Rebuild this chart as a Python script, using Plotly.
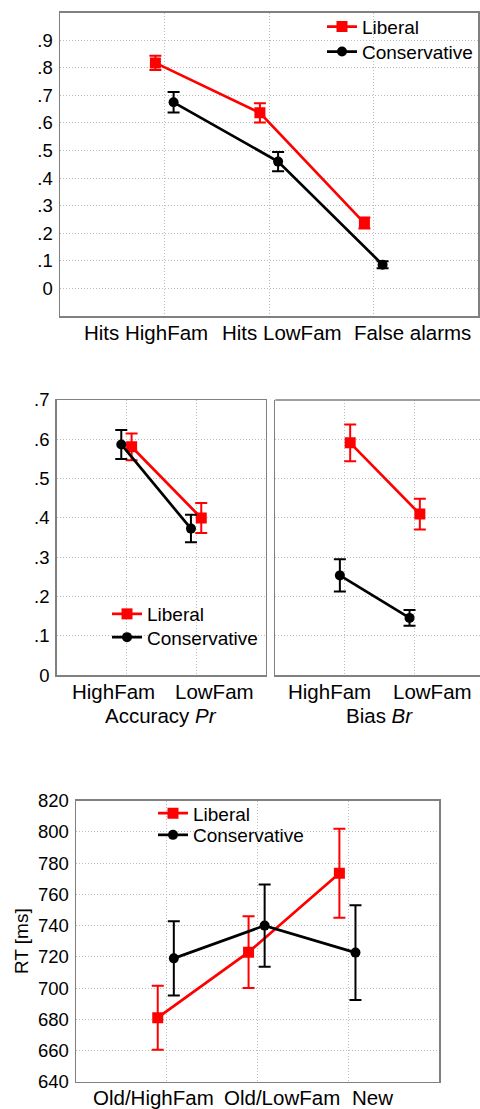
import plotly.graph_objects as go

# ---------------- data ----------------
top_categories = ["Hits HighFam", "Hits LowFam", "False alarms"]
top_liberal = [0.818, 0.637, 0.237]
top_liberal_err = [0.026, 0.035, 0.020]
top_conservative = [0.675, 0.460, 0.086]
top_conservative_err = [0.037, 0.035, 0.013]
top_tick_vals = [0, 0.1, 0.2, 0.3, 0.4, 0.5, 0.6, 0.7, 0.8, 0.9]
top_tick_text = ["0", ".1", ".2", ".3", ".4", ".5", ".6", ".7", ".8", ".9"]

mid_categories = ["HighFam", "LowFam"]
pr_liberal = [0.581, 0.400]
pr_liberal_err = [0.034, 0.038]
pr_conservative = [0.587, 0.373]
pr_conservative_err = [0.037, 0.035]
br_liberal = [0.591, 0.410]
br_liberal_err = [0.047, 0.039]
br_conservative = [0.254, 0.146]
br_conservative_err = [0.041, 0.020]
mid_tick_vals = [0, 0.1, 0.2, 0.3, 0.4, 0.5, 0.6, 0.7]
mid_tick_text = ["0", ".1", ".2", ".3", ".4", ".5", ".6", ".7"]
mid_titles = ["Accuracy <i>Pr</i>", "Bias <i>Br</i>"]

rt_categories = ["Old/HighFam", "Old/LowFam", "New"]
rt_liberal = [681, 723, 773.5]
rt_liberal_err = [20.5, 23, 28.5]
rt_conservative = [719, 740, 722.7]
rt_conservative_err = [23.8, 26.4, 30.4]
rt_tick_vals = [640, 660, 680, 700, 720, 740, 760, 780, 800, 820]
rt_tick_text = ["640", "660", "680", "700", "720", "740", "760", "780", "800", "820"]
rt_title = "RT [ms]"

series_names = ["Liberal", "Conservative"]

# ---------------- style ----------------
FONT = "Liberation Sans, Arial, sans-serif"
FS_TICK = 18.5
FS_CAT = 20.5
FS_LEG = 19
RED = "#ff0000"
BLACK = "#000000"
FRAME = "#808080"
GRID = "#bcbcbc"
GRID_DASH = "1px,2px"
H = 1109.0
W = 480.0


def xs(n, off):
    return [i + off for i in range(n)]


def add_series(fig, x, y, err, color, symbol, name, xa, ya, legend, showlegend, msize):
    fig.add_trace(go.Scatter(
        x=x, y=y, mode="lines+markers", name=name,
        line=dict(color=color, width=2.7),
        marker=dict(color=color, symbol=symbol, size=msize),
        error_y=dict(type="data", array=err, color=color, thickness=2, width=6),
        xaxis=xa, yaxis=ya, legend=legend, showlegend=showlegend,
    ))


fig = go.Figure()

# top panel
add_series(fig, xs(3, -0.087), top_liberal, top_liberal_err, RED, "square", series_names[0], "x", "y", "legend", True, 11)
add_series(fig, xs(3, 0.087), top_conservative, top_conservative_err, BLACK, "circle", series_names[1], "x", "y", "legend2", True, 10)
# middle left (Pr)
add_series(fig, xs(2, 0.075), pr_liberal, pr_liberal_err, RED, "square", series_names[0], "x2", "y2", "legend3", True, 11)
add_series(fig, xs(2, -0.073), pr_conservative, pr_conservative_err, BLACK, "circle", series_names[1], "x2", "y2", "legend4", True, 10)
# middle right (Br)
add_series(fig, xs(2, 0.075), br_liberal, br_liberal_err, RED, "square", series_names[0], "x3", "y3", "legend3", False, 11)
add_series(fig, xs(2, -0.073), br_conservative, br_conservative_err, BLACK, "circle", series_names[1], "x3", "y3", "legend4", False, 10)
# bottom (RT)
add_series(fig, xs(3, -0.10), rt_liberal, rt_liberal_err, RED, "square", series_names[0], "x4", "y4", "legend5", True, 11)
add_series(fig, xs(3, 0.077), rt_conservative, rt_conservative_err, BLACK, "circle", series_names[1], "x4", "y4", "legend6", True, 10)


def ydom(top_px, bot_px):
    return [1 - bot_px / H, 1 - top_px / H]


def xdom(l_px, r_px):
    return [l_px / W, min(1.0, r_px / W)]


def xaxis(domain, rng, n, anchor, mirror=True):
    return dict(domain=domain, range=rng, tickvals=list(range(n)), showticklabels=False,
                showgrid=True, gridcolor=GRID, griddash=GRID_DASH, gridwidth=1,
                showline=True, linecolor=FRAME, linewidth=1.5, mirror=mirror,
                zeroline=False, ticks="", anchor=anchor, fixedrange=True)


def yaxis(domain, rng, vals, text, anchor, labels=True, mirror=True):
    return dict(domain=domain, range=rng, tickvals=vals, ticktext=text, showticklabels=labels,
                showgrid=True, gridcolor=GRID, griddash=GRID_DASH, gridwidth=1,
                showline=True, linecolor=FRAME, linewidth=1.5, mirror=mirror,
                zeroline=False, ticks="", ticklabelstandoff=2, anchor=anchor,
                tickfont=dict(size=FS_TICK, family=FONT, color="black"), fixedrange=True)


def leg(x_px, yc_px):
    return dict(x=x_px / W, y=1 - yc_px / H, xanchor="left", yanchor="middle",
                bgcolor="rgba(0,0,0,0)", borderwidth=0,
                font=dict(size=FS_LEG, family=FONT, color="black"), itemwidth=30)


fig.update_layout(
    width=480, height=1109,
    margin=dict(l=0, r=0, t=0, b=0, autoexpand=False),
    paper_bgcolor="white", plot_bgcolor="white",
    font=dict(family=FONT, size=FS_LEG, color="black"),
    xaxis=xaxis(xdom(60, 478), [-1, 3], 3, "y"),
    yaxis=yaxis(ydom(12.7, 316), [-0.1, 1.0], top_tick_vals, top_tick_text, "x"),
    xaxis2=xaxis(xdom(56.7, 265.7), [-1, 2], 2, "y2"),
    yaxis2=yaxis(ydom(400, 675.3), [0, 0.7], mid_tick_vals, mid_tick_text, "x2"),
    xaxis3=xaxis(xdom(275.3, 480), [-1, (480 - 344.3) / 70.0], 2, "y3", mirror=False),
    yaxis3=yaxis(ydom(400, 675.3), [0, 0.7], mid_tick_vals, mid_tick_text, "x3", labels=False, mirror=False),
    xaxis4=xaxis(xdom(76, 439.3), [-1, 3], 3, "y4"),
    yaxis4=yaxis(ydom(800.7, 1081.7), [640, 820], rt_tick_vals, rt_tick_text, "x4"),
    legend=leg(322, 26.7),
    legend2=leg(322, 51.7),
    legend3=leg(107, 614),
    legend4=leg(107, 637.3),
    legend5=leg(153, 813.3),
    legend6=leg(153, 835),
    showlegend=True,
)
fig.layout.yaxis4.title = dict(text=rt_title, font=dict(size=FS_LEG, family=FONT, color="black"), standoff=4)

# top frame line for the right middle panel (its right edge is cut off)
fig.add_shape(type="line", xref="x3 domain", yref="y3 domain", x0=0, x1=1, y0=1, y1=1,
              line=dict(color=FRAME, width=1.5))


# category labels (offset relative to category positions, like the original)
def cat_labels(cats, xref, yref, shifts, yshift):
    for i, c in enumerate(cats):
        fig.add_annotation(text=c, x=i, xref=xref, y=0, yref=yref, yanchor="top",
                           xshift=shifts[i], yshift=yshift, showarrow=False, borderpad=0,
                           font=dict(size=FS_CAT, family=FONT, color="black"))


cat_labels(top_categories, "x", "y domain", [-19, 13, 39], -4)
cat_labels(mid_categories, "x2", "y2 domain", [-13, 18], -4)
cat_labels(mid_categories, "x3", "y3 domain", [-15, 18], -4)
cat_labels(rt_categories, "x4", "y4 domain", [-13, 24, 24], -3)

for title, xr, yr in zip(mid_titles, ["x2", "x3"], ["y2 domain", "y3 domain"]):
    fig.add_annotation(text=title, x=0.5, xref=xr, y=0, yref=yr, yanchor="middle",
                       yshift=-40, showarrow=False,
                       font=dict(size=FS_CAT, family=FONT, color="black"))

fig.write_html(
    "out.html",
    config={"displayModeBar": False, "staticPlot": True},
    post_script="document.body.style.margin='0';document.body.style.overflow='hidden';",
)
